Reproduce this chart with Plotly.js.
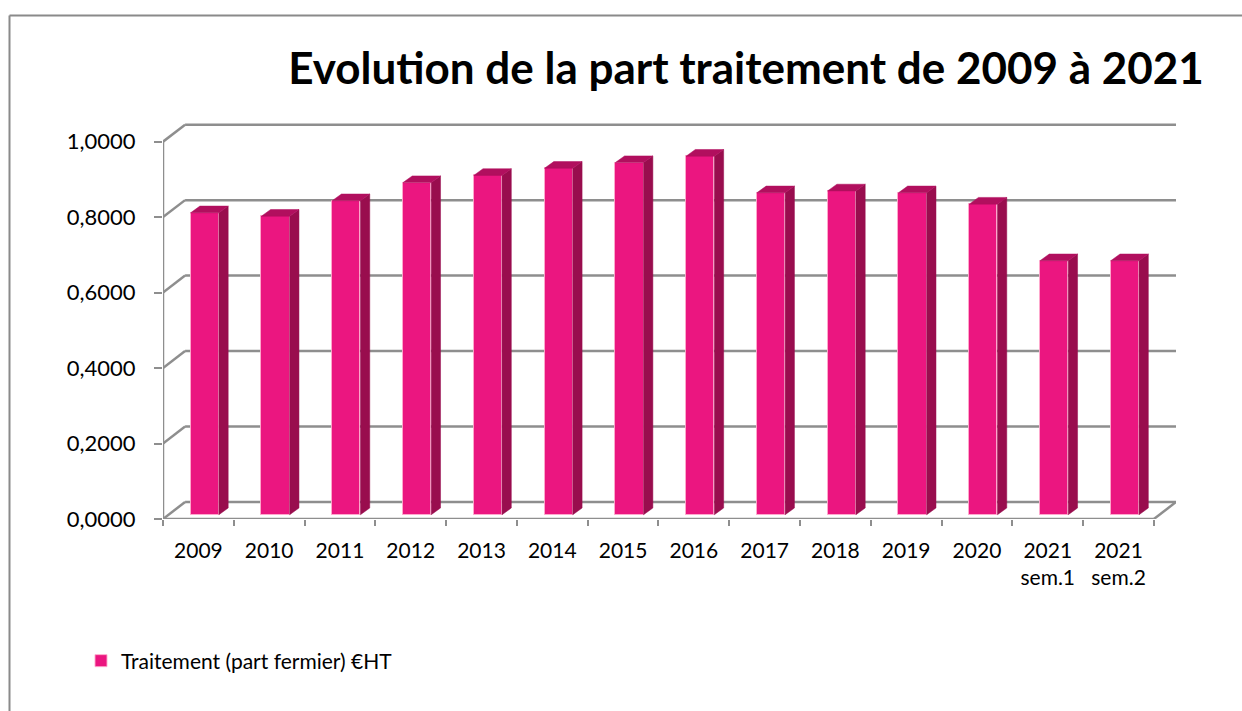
<!DOCTYPE html>
<html>
<head>
<meta charset="utf-8">
<script src="https://cdn.plot.ly/plotly-3.0.1.min.js"></script>
<style>
  html, body { margin: 0; padding: 0; background: #ffffff; }
  #chart { width: 1242px; height: 711px; }
</style>
</head>
<body>
<div id="chart"></div>
<script>
// ---- data ----
const categories = ["2009", "2010", "2011", "2012", "2013", "2014", "2015", "2016",
                    "2017", "2018", "2019", "2020", "2021<br>sem.1", "2021<br>sem.2"];
const values = [0.800, 0.791, 0.832, 0.880, 0.899, 0.918, 0.933, 0.950,
                0.853, 0.858, 0.853, 0.823, 0.673, 0.673];
const yTickVals = [0, 0.2, 0.4, 0.6, 0.8, 1.0];
const yTickText = ["0,0000", "0,2000", "0,4000", "0,6000", "0,8000", "1,0000"];
const seriesName = "Traitement (part fermier) €HT";
const titleText = "Evolution de la part traitement de 2009 à 2021";

// ---- styling / 3D projection parameters ----
const FONT = "Lato, 'Open Sans', sans-serif";
const FRONT = "#EB1680", SIDE = "#990D4E", TOP = "#B10F5E";
const GRID = "#8e8e8e";
const W = 1242, H = 711;
const M = { l: 163, r: 66, t: 119, b: 192 };
const WALL_DX = 0.312, WALL_DY = 0.045;   // back wall depth offset (data units)
const BAR_DX = 0.09, BAR_DY = 0.0114;     // bar plane offset
const SIDE_DX = 0.131, SIDE_DY = 0.0178;  // bar depth
const BAR_W = 0.40;
const n = categories.length;
const xIdx = categories.map((_, i) => i);
const xMin = -0.5, xMax = n - 0.5 + WALL_DX;
const yMax = 1.06;

// side + top faces built from the values
const sideX = [], sideY = [], topX = [], topY = [];
values.forEach((v, i) => {
  const xl = i + BAR_DX - BAR_W / 2, xr = i + BAR_DX + BAR_W / 2;
  const b = BAR_DY, t = BAR_DY + v;
  sideX.push(xr, xr + SIDE_DX, xr + SIDE_DX, xr, xr, null);
  sideY.push(b, b + SIDE_DY, t + SIDE_DY, t, b, null);
  topX.push(xl, xl + SIDE_DX, xr + SIDE_DX, xr, xl, null);
  topY.push(t, t + SIDE_DY, t + SIDE_DY, t, t, null);
});

const traces = [
  {
    type: "bar", name: seriesName,
    x: xIdx.map(i => i + BAR_DX), y: values, base: BAR_DY, width: BAR_W,
    marker: { color: FRONT, line: { color: "rgba(255,170,205,0.9)", width: 1 } },
    showlegend: true, hoverinfo: "y"
  },
  {
    type: "scatter", mode: "lines", x: sideX, y: sideY, fill: "toself",
    fillcolor: SIDE, line: { color: SIDE, width: 0.5 }, showlegend: false, hoverinfo: "skip"
  },
  {
    type: "scatter", mode: "lines", x: topX, y: topY, fill: "toself",
    fillcolor: TOP, line: { color: TOP, width: 0.5 }, showlegend: false, hoverinfo: "skip"
  }
];

// frame: back-wall gridlines, left diagonals, floor, front axes
const shapes = [];
const gl = { color: GRID, width: 2.5 };
yTickVals.forEach(v => {
  shapes.push({ type: "line", xref: "x", yref: "y", layer: "below",
    x0: xMin + WALL_DX, y0: v + WALL_DY, x1: xMax, y1: v + WALL_DY, line: gl });
  shapes.push({ type: "line", xref: "x", yref: "y", layer: "below",
    x0: xMin, y0: v, x1: xMin + WALL_DX, y1: v + WALL_DY, line: gl });
});
// front axis lines
shapes.push({ type: "line", xref: "x", yref: "y", layer: "below",
  x0: xMin, y0: 0, x1: xMin, y1: yTickVals[yTickVals.length - 1], line: gl });
shapes.push({ type: "line", xref: "x", yref: "y", layer: "below",
  x0: xMin, y0: 0, x1: n - 0.5, y1: 0, line: gl });
shapes.push({ type: "line", xref: "x", yref: "y", layer: "below",
  x0: n - 0.5, y0: 0, x1: n - 0.5 + WALL_DX, y1: WALL_DY, line: gl });

// outer chart border (top + left), pixel positions converted to paper coords
const plotW = W - M.l - M.r, plotH = H - M.t - M.b;
const px = p => (p - M.l) / plotW;
const py = p => (H - M.b - p) / plotH;
shapes.push({ type: "line", xref: "paper", yref: "paper",
  x0: px(9.5), y0: py(15.5), x1: px(1260), y1: py(15.5), line: { color: "#8a8a8a", width: 2 } });
shapes.push({ type: "line", xref: "paper", yref: "paper",
  x0: px(9.5), y0: py(15.5), x1: px(9.5), y1: py(730), line: { color: "#8a8a8a", width: 2 } });

const layout = {
  width: W, height: H,
  margin: M,
  paper_bgcolor: "#ffffff", plot_bgcolor: "rgba(0,0,0,0)",
  font: { family: FONT, color: "#000000", size: 21 },
  title: {
    text: "<b>" + titleText + "</b>",
    font: { family: FONT, size: 44, color: "#000000" },
    x: 746 / W, xanchor: "center", xref: "container",
    y: 1 - 69 / H, yanchor: "middle", yref: "container"
  },
  xaxis: {
    range: [xMin, xMax], showgrid: false, zeroline: false, showline: false,
    tickmode: "array", tickvals: xIdx, ticktext: categories, ticks: "",
    tickfont: { family: FONT, size: 21, color: "#000000" },
    ticklabelstandoff: 17,
    minor: { tickmode: "array", tickvals: xIdx.concat([n]).map(i => i - 0.5),
             ticks: "outside", ticklen: 6, tickwidth: 2, tickcolor: GRID, showgrid: false },
    fixedrange: true
  },
  yaxis: {
    range: [0, yMax], showgrid: false, zeroline: false, showline: false,
    tickmode: "array", tickvals: yTickVals, ticktext: yTickText,
    ticks: "outside", ticklen: 8, tickwidth: 2, tickcolor: GRID,
    tickfont: { family: FONT, size: 22, color: "#000000" },
    ticklabelstandoff: 14,
    fixedrange: true
  },
  showlegend: true,
  legend: {
    orientation: "h", x: px(81), xanchor: "left", y: py(661), yanchor: "middle",
    font: { family: FONT, size: 21, color: "#000000" }, bgcolor: "rgba(0,0,0,0)"
  },
  shapes: shapes,
  bargap: 0
};

Plotly.newPlot("chart", traces, layout, { displayModeBar: false, responsive: false });
</script>
</body>
</html>
